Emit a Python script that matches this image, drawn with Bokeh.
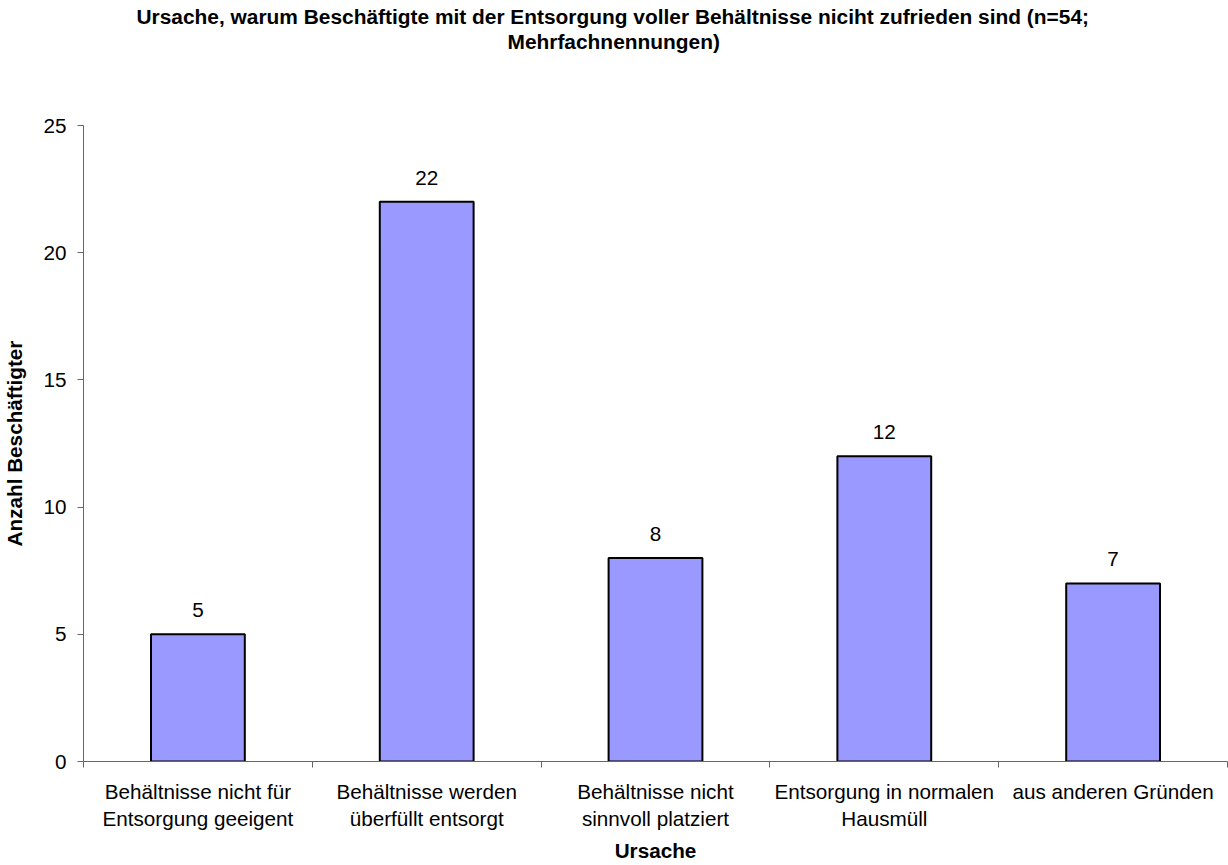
from bokeh.plotting import figure
from bokeh.models import Range1d, FixedTicker, ColumnDataSource, Title
from bokeh.core.properties import value
from bokeh.embed import file_html
from bokeh.resources import INLINE

categories = [
    "Behältnisse nicht für\nEntsorgung geeigent",
    "Behältnisse werden\nüberfüllt entsorgt",
    "Behältnisse nicht\nsinnvoll platziert",
    "Entsorgung in normalen\nHausmüll",
    "aus anderen Gründen",
]
counts = [5, 22, 8, 12, 7]
y_ticks = [0, 5, 10, 15, 20, 25]
title_line1 = "Ursache, warum Beschäftigte mit der Entsorgung voller Behältnisse niciht zufrieden sind (n=54;"
title_line2 = "Mehrfachnennungen)"

FONT = "Liberation Sans"
FS = "20.7px"
TFS = "20.9px"

xpos = [i + 0.5 for i in range(len(categories))]
src = ColumnDataSource(dict(x=xpos, top=counts, lab=[str(c) for c in counts]))

p = figure(width=1228, height=865, output_backend="svg", toolbar_location=None,
           title=None,
           x_range=Range1d(0, len(categories)), y_range=Range1d(0, 25),
           min_border_left=10, min_border_right=1, min_border_top=0, min_border_bottom=0)

spacer = Title(text=" ", text_font=FONT, text_font_size=FS, standoff=50)
t2 = Title(text=title_line2, align="left", text_font=FONT, text_font_size=TFS,
           text_font_style="bold", text_color="black", offset=424, standoff=-4)
t1 = Title(text=title_line1, align="left", text_font=FONT, text_font_size=TFS,
           text_font_style="bold", text_color="black", offset=53, standoff=4)
p.add_layout(spacer, "above")
p.add_layout(t2, "above")
p.add_layout(t1, "above")

p.vbar(x="x", top="top", width=0.41, source=src, fill_color="#9999FF",
       line_color="black", line_width=2)
p.text(x="x", y="top", text="lab", source=src, text_align="center",
       text_baseline="middle", y_offset=-24, text_font=value(FONT),
       text_font_size=FS, text_color="black")

p.xgrid.visible = False
p.ygrid.visible = False
p.outline_line_color = None

xa = p.xaxis[0]
xa.ticker = FixedTicker(ticks=xpos, minor_ticks=list(range(len(categories) + 1)))
xa.major_label_overrides = {x: c for x, c in zip(xpos, categories)}
xa.major_tick_out = 0
xa.major_tick_in = 0
xa.minor_tick_out = 6
xa.minor_tick_in = 0
xa.major_label_standoff = 12
xa.major_label_text_font = FONT
xa.major_label_text_font_size = FS
xa.major_label_text_color = "black"
xa.axis_label = "Ursache"
xa.axis_label_text_font = FONT
xa.axis_label_text_font_size = FS
xa.axis_label_text_font_style = "bold"
xa.axis_label_text_color = "black"
xa.axis_label_standoff = 6
xa.axis_line_color = "#666666"
xa.minor_tick_line_color = "#666666"

ya = p.yaxis[0]
ya.ticker = FixedTicker(ticks=y_ticks)
ya.major_tick_out = 6
ya.major_tick_in = 0
ya.minor_tick_out = 0
ya.minor_tick_in = 0
ya.major_label_standoff = 11
ya.major_label_text_font = FONT
ya.major_label_text_font_size = FS
ya.major_label_text_color = "black"
ya.axis_label = "Anzahl Beschäftigter"
ya.axis_label_text_font = FONT
ya.axis_label_text_font_size = FS
ya.axis_label_text_font_style = "bold"
ya.axis_label_text_color = "black"
ya.axis_label_standoff = 14
ya.axis_line_color = "#666666"
ya.major_tick_line_color = "#666666"

open("out.html", "w").write(file_html(p, INLINE))
